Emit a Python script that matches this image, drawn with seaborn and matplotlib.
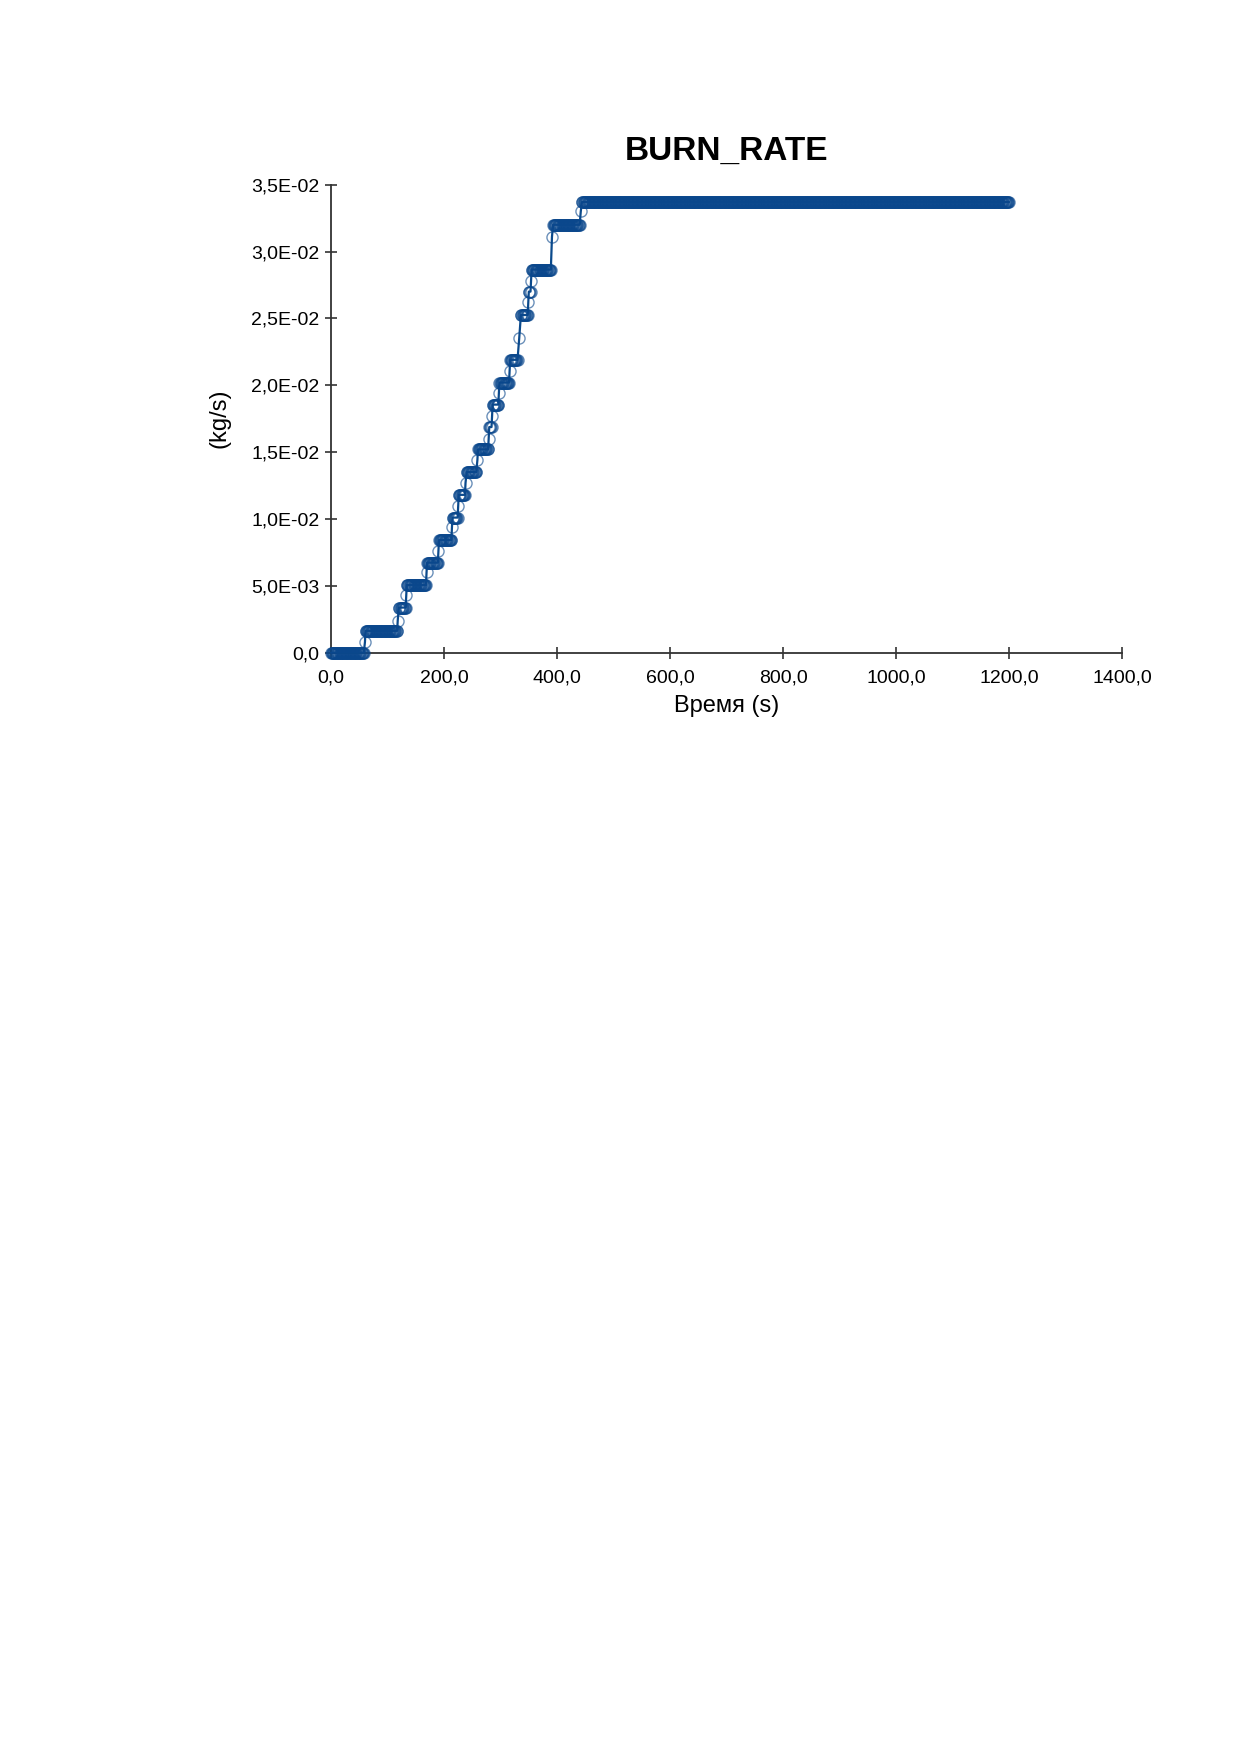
import numpy as np
import pandas as pd
import seaborn as sns
import matplotlib
matplotlib.use("Agg")
import matplotlib.pyplot as plt

# plateaus of the burn rate curve (s, s, kg/s)
step_start = [0, 61, 120, 134, 170, 191, 215, 226, 240, 260, 280, 286, 298, 317, 336, 350, 355, 393, 444]
step_end = [58, 117, 132, 168, 189, 213, 224, 237, 257, 278, 284, 296, 315, 330, 348, 353, 389, 440, 1200]
step_value = [0.0, 1.63e-3, 3.37e-3, 5.05e-3, 6.73e-3, 8.42e-3, 1.01e-2, 1.18e-2, 1.35e-2,
              1.52e-2, 1.687e-2, 1.855e-2, 2.02e-2, 2.19e-2, 2.525e-2, 2.70e-2, 2.865e-2,
              3.20e-2, 3.37e-2]

# single points seen between plateaus
trans_t = [60, 118, 133, 169, 190, 214, 225, 238, 259, 279, 285, 297, 316, 333, 349, 354, 391, 442]
trans_v = [0.8e-3, 2.4e-3, 4.3e-3, 6.0e-3, 7.6e-3, 9.4e-3, 1.10e-2, 1.27e-2, 1.44e-2,
           1.60e-2, 1.77e-2, 1.94e-2, 2.11e-2, 2.35e-2, 2.62e-2, 2.78e-2, 3.11e-2, 3.30e-2]

xticks = [0, 200, 400, 600, 800, 1000, 1200, 1400]
xtick_labels = ["0,0", "200,0", "400,0", "600,0", "800,0", "1000,0", "1200,0", "1400,0"]
yticks = [0.0, 0.005, 0.010, 0.015, 0.020, 0.025, 0.030, 0.035]
ytick_labels = ["0,0", "5,0E-03", "1,0E-02", "1,5E-02", "2,0E-02", "2,5E-02", "3,0E-02", "3,5E-02"]

# expand plateaus into the sampled points of the recorder (one per second)
rows = []
for a, b, v in zip(step_start, step_end, step_value):
    for t in range(a, b + 1):
        rows.append((t, v))
for t, v in zip(trans_t, trans_v):
    rows.append((t, v))
df = pd.DataFrame(rows, columns=["time", "rate"]).sort_values("time")

sns.set_style("white")
plt.rcParams["font.family"] = ["Liberation Sans", "DejaVu Sans"]
plt.rcParams["text.color"] = "black"

fig = plt.figure(figsize=(12.39, 17.52), dpi=100)
ax = fig.add_axes([0.2672, 0.6275, 0.6384, 0.2671])

blue = "#0b4a8c"
sns.lineplot(data=df, x="time", y="rate", ax=ax, estimator=None, sort=True,
             color=blue, linewidth=1.6, marker="o", markersize=8,
             markerfacecolor="none", markeredgecolor=(0.04, 0.28, 0.55, 0.6),
             markeredgewidth=1.0, clip_on=False, zorder=3)

ax.set_xlim(0, 1400)
ax.set_ylim(0, 0.035)
ax.set_xticks(xticks)
ax.set_xticklabels(xtick_labels)
ax.set_yticks(yticks)
ax.set_yticklabels(ytick_labels)

for side in ["top", "right"]:
    ax.spines[side].set_visible(False)
for side in ["left", "bottom"]:
    ax.spines[side].set_color("#333333")
    ax.spines[side].set_linewidth(1.3)

ax.tick_params(axis="both", direction="inout", length=9, width=1.2, color="#333333",
               labelsize=14, labelcolor="black", bottom=True, left=True)
ax.tick_params(axis="y", pad=4)
ax.tick_params(axis="x", pad=8)

ax.set_xlabel("Время (s)", fontsize=17, labelpad=6, color="black")
ax.set_ylabel("(kg/s)", fontsize=17, labelpad=15, color="black")
ax.set_title("BURN_RATE", fontsize=24, fontweight="bold", pad=18, color="black")

fig.savefig("out.png", dpi=100, facecolor="white")
